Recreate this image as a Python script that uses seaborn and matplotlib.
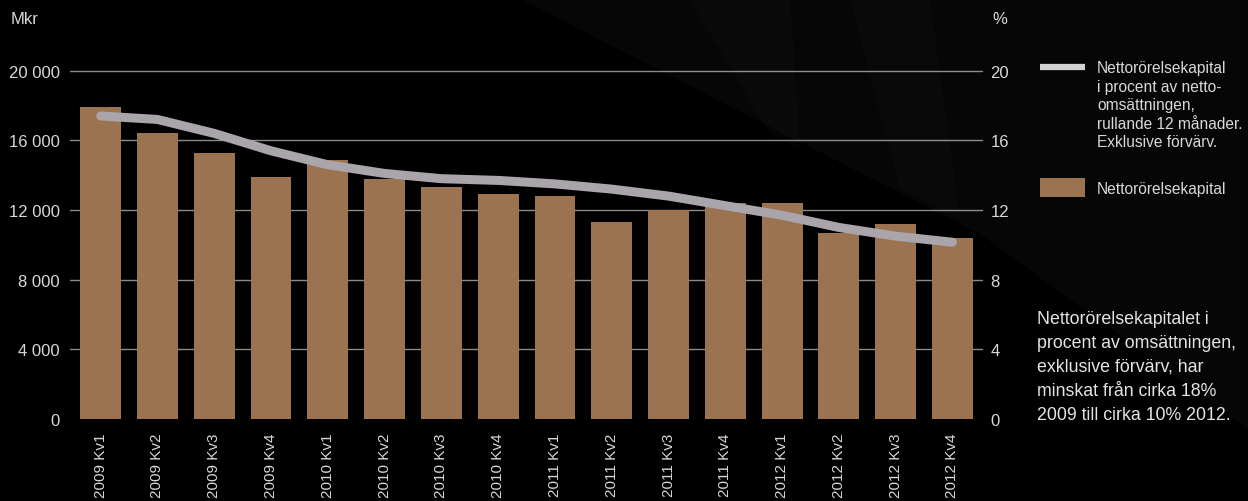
import matplotlib
matplotlib.use("Agg")
import matplotlib.pyplot as plt
import seaborn as sns
import pandas as pd
from matplotlib.patches import Polygon, Rectangle
from matplotlib.lines import Line2D

# ---------------- data ----------------
quarters = ["2009 Kv1", "2009 Kv2", "2009 Kv3", "2009 Kv4",
            "2010 Kv1", "2010 Kv2", "2010 Kv3", "2010 Kv4",
            "2011 Kv1", "2011 Kv2", "2011 Kv3", "2011 Kv4",
            "2012 Kv1", "2012 Kv2", "2012 Kv3", "2012 Kv4"]
working_capital = [17900, 16400, 15300, 13900, 14900, 13800, 13300, 12900,
                   12800, 11300, 12000, 12400, 12400, 10700, 11200, 10400]
pct_of_sales = [17.4, 17.2, 16.4, 15.4, 14.6, 14.1, 13.8, 13.7,
                13.5, 13.2, 12.8, 12.25, 11.7, 11.0, 10.5, 10.15]
left_ticks = [0, 4000, 8000, 12000, 16000, 20000]
left_tick_labels = ["0", "4 000", "8 000", "12 000", "16 000", "20 000"]
right_ticks = [0, 4, 8, 12, 16, 20]
right_tick_labels = ["0", "4", "8", "12", "16", "20"]
legend_line_label = ["Nettorörelsekapital", "i procent av netto-", "omsättningen,",
                     "rullande 12 månader.", "Exklusive förvärv."]
legend_bar_label = "Nettorörelsekapital"
note_lines = ["Nettorörelsekapitalet i", "procent av omsättningen,",
              "exklusive förvärv, har", "minskat från cirka 18%",
              "2009 till cirka 10% 2012."]

df = pd.DataFrame({"kvartal": quarters, "nrk": working_capital, "pct": pct_of_sales})

# ---------------- style ----------------
sns.set_theme(style="dark")
plt.rcParams['font.family'] = ['Liberation Sans', 'DejaVu Sans']

BAR = "#9b7350"
LINE = "#a9a5aa"
TXT = "#d8d8d8"
GRID = "#8a8a8a"
TICK_FS = 12.0

W, H = 1248, 502
fig = plt.figure(figsize=(W / 100, H / 100), dpi=100, facecolor="black")

def fx(px):
    return px / W

def fy(py):
    return 1 - py / H

# subtle background streaks
fig.patches.append(Polygon([(fx(520), fy(0)), (fx(1248), fy(0)), (fx(1248), fy(430)), (fx(980), fy(235))],
                           closed=True, transform=fig.transFigure, facecolor="white", alpha=0.028,
                           edgecolor="none", zorder=0))
fig.patches.append(Polygon([(fx(690), fy(0)), (fx(790), fy(0)), (fx(800), fy(150)), (fx(770), fy(135))],
                           closed=True, transform=fig.transFigure, facecolor="white", alpha=0.018,
                           edgecolor="none", zorder=0))
fig.patches.append(Polygon([(fx(850), fy(0)), (fx(930), fy(0)), (fx(960), fy(220)), (fx(900), fy(190))],
                           closed=True, transform=fig.transFigure, facecolor="white", alpha=0.015,
                           edgecolor="none", zorder=0))

ax = fig.add_axes([fx(70), fy(420), fx(982) - fx(70), (420 - 71.7) / H])
ax.set_facecolor("none")

sns.barplot(data=df, x="kvartal", y="nrk", color=BAR, saturation=1, width=0.72,
            ax=ax, zorder=2, edgecolor="none", linewidth=0)

ax.set_ylim(0, 20000)
ax.set_yticks(left_ticks)
ax.set_yticklabels(left_tick_labels)
ax.yaxis.grid(True, color=GRID, linewidth=1)
ax.xaxis.grid(False)
ax.set_axisbelow(True)
for i, gl in enumerate(ax.get_ygridlines()):
    gl.set_clip_on(False)
    if i == 0:
        gl.set_visible(False)

ax2 = ax.twinx()
ax2.set_facecolor("none")
sns.pointplot(data=df, x="kvartal", y="pct", color=LINE, errorbar=None, ax=ax2)
for ln in ax2.lines:
    ln.set_marker("")
    ln.set_linewidth(6.5)
    ln.set_solid_capstyle("round")
    ln.set_solid_joinstyle("round")
    ln.set_color(LINE)
    ln.set_zorder(3)
for c in ax2.collections:
    c.set_visible(False)

ax2.set_ylim(0, 20)
ax2.set_yticks(right_ticks)
ax2.set_yticklabels(right_tick_labels)
ax2.grid(False)

for a in (ax, ax2):
    for s in a.spines.values():
        s.set_visible(False)
    a.set_xlabel("")
    a.set_ylabel("")
    a.set_xlim(-0.54, 15.52)

ax.tick_params(axis="y", length=0, pad=7.5, labelsize=TICK_FS, labelcolor=TXT)
ax2.tick_params(axis="y", length=0, pad=6, labelsize=TICK_FS, labelcolor=TXT)
ax.tick_params(axis="x", length=0, pad=10, labelsize=11, labelcolor=TXT, labelrotation=90)
ax2.tick_params(axis="x", length=0, bottom=False, labelbottom=False)

# axis unit labels
fig.text(fx(11), fy(20), "Mkr", color=TXT, fontsize=TICK_FS, ha="left", va="center")
fig.text(fx(992), fy(20), "%", color=TXT, fontsize=TICK_FS, ha="left", va="center")

# legend
LEG_FS = 11.2
fig.add_artist(Line2D([fx(1040), fx(1085)], [fy(67.7), fy(67.7)], transform=fig.transFigure,
                      color="#d2d2d2", linewidth=4.5, solid_capstyle="butt"))
for i, t in enumerate(legend_line_label):
    fig.text(fx(1097), fy(73.3 + 18.5 * i), t, color=TXT, fontsize=LEG_FS, ha="left", va="baseline")
fig.add_artist(Rectangle((fx(1040), fy(197.7)), fx(1085) - fx(1040), (197.7 - 179) / H,
                         transform=fig.transFigure, facecolor=BAR, edgecolor="none"))
fig.text(fx(1097), fy(194), legend_bar_label, color=TXT, fontsize=LEG_FS, ha="left", va="baseline")

# note text
for i, t in enumerate(note_lines):
    fig.text(fx(1037), fy(324 + 24 * i), t, color="#e4e4e4", fontsize=12.8, ha="left", va="baseline")

fig.savefig("out.png", dpi=100, facecolor="black")
